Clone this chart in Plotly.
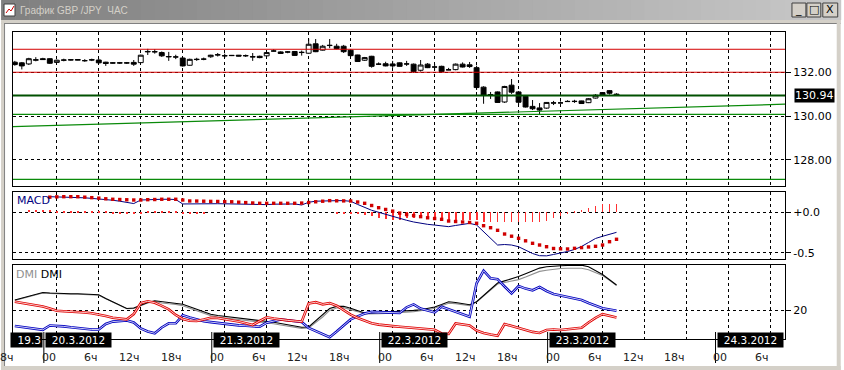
import plotly.graph_objects as go

# ---------------- data ----------------
candle_hours = list(range(-6, 81))  # hours relative to 20.3.2012 00:00

open_ = [132.46, 132.43, 132.38, 132.55, 132.62, 132.62, 132.45, 132.55, 132.56, 132.55,
         132.53, 132.56, 132.56, 132.46, 132.43, 132.42, 132.42, 132.45, 132.44, 132.93,
         132.93, 132.90, 132.70, 132.70, 132.65, 132.32, 132.58, 132.60, 132.71, 132.79,
         132.76, 132.76, 132.78, 132.75, 132.70, 132.73, 132.75, 132.97, 132.93, 132.92,
         132.95, 132.90, 132.87, 133.30, 133.01, 133.22, 133.19, 133.19, 133.01, 132.79,
         132.55, 132.73, 132.37, 132.39, 132.38, 132.43, 132.38, 132.37, 132.09, 132.37,
         132.24, 132.27, 132.11, 132.12, 132.37, 132.34, 132.21, 131.32, 130.96, 131.10,
         130.64, 131.41, 131.10, 130.90, 130.44, 130.37, 130.36, 130.59, 130.60, 130.67,
         130.66, 130.69, 130.61, 130.82, 131.07, 131.16, 131.00]
high = [132.52, 132.47, 132.66, 132.69, 132.66, 132.64, 132.58, 132.62, 132.59, 132.60,
        132.60, 132.62, 132.62, 132.48, 132.46, 132.47, 132.47, 132.56, 132.80, 133.07,
        133.05, 132.95, 132.93, 132.80, 132.68, 132.62, 132.66, 132.67, 132.80, 132.88,
        132.85, 132.79, 132.79, 132.81, 132.88, 132.76, 132.93, 133.05, 132.96, 132.97,
        132.97, 132.99, 133.54, 133.52, 133.25, 133.52, 133.30, 133.25, 133.05, 132.80,
        132.70, 132.75, 132.45, 132.48, 132.52, 132.45, 132.52, 132.40, 132.56, 132.42,
        132.38, 132.30, 132.20, 132.40, 132.45, 132.47, 132.30, 131.36, 131.10, 131.12,
        131.38, 131.69, 131.14, 130.92, 130.73, 130.59, 130.64, 130.69, 130.67, 130.72,
        130.74, 130.70, 130.82, 131.00, 131.09, 131.18, 131.04]
low = [132.30, 132.13, 132.33, 132.50, 132.56, 132.38, 132.43, 132.50, 132.54, 132.54,
       132.48, 132.51, 132.40, 132.29, 132.40, 132.38, 132.38, 132.29, 132.42, 132.79,
       132.85, 132.70, 132.52, 132.60, 132.26, 132.30, 132.52, 132.55, 132.66, 132.72,
       132.66, 132.74, 132.73, 132.70, 132.52, 132.64, 132.72, 132.96, 132.84, 132.87,
       132.75, 132.76, 132.85, 132.92, 132.99, 133.10, 133.05, 132.88, 132.70, 132.47,
       132.52, 132.21, 132.33, 132.27, 132.20, 132.26, 132.29, 131.97, 132.03, 132.19,
       132.11, 132.00, 132.10, 132.09, 132.22, 132.20, 131.19, 130.56, 130.78, 130.60,
       130.60, 131.01, 130.50, 130.39, 130.27, 130.09, 130.33, 130.50, 130.57, 130.64,
       130.60, 130.55, 130.59, 130.80, 130.95, 130.98, 130.92]
close = [132.35, 132.29, 132.62, 132.57, 132.58, 132.41, 132.55, 132.56, 132.57, 132.58,
         132.53, 132.57, 132.43, 132.40, 132.42, 132.43, 132.43, 132.37, 132.78, 132.95,
         132.94, 132.75, 132.72, 132.70, 132.29, 132.59, 132.59, 132.60, 132.78, 132.80,
         132.75, 132.77, 132.74, 132.76, 132.71, 132.67, 132.90, 132.97, 132.86, 132.93,
         132.77, 132.91, 133.28, 132.94, 133.19, 133.23, 133.08, 132.94, 132.76, 132.49,
         132.67, 132.27, 132.37, 132.29, 132.29, 132.27, 132.38, 132.03, 132.33, 132.21,
         132.24, 132.03, 132.11, 132.37, 132.24, 132.26, 131.30, 130.96, 130.97, 130.62,
         131.35, 131.09, 130.63, 130.41, 130.33, 130.27, 130.62, 130.60, 130.60, 130.66,
         130.67, 130.57, 130.79, 130.95, 130.96, 131.04, 130.94]

macd_first = 5  # MACD line and signal start at this candle
macd_line = [0.193, 0.192, 0.191, 0.189, 0.186, 0.179, 0.172, 0.166, 0.158, 0.149,
             0.137, 0.121, 0.108, 0.152, 0.157, 0.160, 0.161, 0.161, 0.158, 0.103,
             0.105, 0.106, 0.106, 0.106, 0.106, 0.105, 0.103, 0.099, 0.095, 0.093,
             0.090, 0.095, 0.100, 0.103, 0.103, 0.103, 0.090, 0.124, 0.137, 0.142,
             0.144, 0.144, 0.144, 0.136, 0.097, 0.061, 0.025, 0.000, -0.027, -0.051,
             -0.072, -0.099, -0.120, -0.139, -0.149, -0.158, -0.168, -0.178, -0.163, -0.150,
             -0.137, -0.157, -0.244, -0.330, -0.405, -0.399, -0.405, -0.426, -0.467, -0.510,
             -0.537, -0.539, -0.522, -0.507, -0.485, -0.460, -0.423, -0.374, -0.324, -0.297,
             -0.275, -0.248]
macd_signal = [0.187, 0.191, 0.193, 0.193, 0.193, 0.187, 0.181, 0.175, 0.167, 0.161,
               0.158, 0.155, 0.152, 0.152, 0.156, 0.158, 0.161, 0.161, 0.161, 0.152,
               0.140, 0.139, 0.137, 0.135, 0.134, 0.132, 0.130, 0.125, 0.120, 0.115,
               0.111, 0.111, 0.111, 0.111, 0.111, 0.111, 0.114, 0.121, 0.130, 0.137,
               0.144, 0.142, 0.141, 0.140, 0.127, 0.111, 0.084, 0.057, 0.035, 0.014,
               -0.010, -0.028, -0.041, -0.054, -0.068, -0.077, -0.087, -0.108, -0.114, -0.120,
               -0.126, -0.136, -0.166, -0.191, -0.223, -0.269, -0.296, -0.322, -0.353, -0.384,
               -0.405, -0.426, -0.448, -0.452, -0.454, -0.446, -0.437, -0.429, -0.421, -0.405,
               -0.364, -0.334]
macd_hist = [0, 0, 0.03, 0.03, 0.03, 0.03, 0.005, 0.005, 0.005, 0.005,
             0.005, 0.005, 0.005, 0.005, -0.02, -0.02, -0.02, -0.02, -0.02, 0.005,
             0.005, 0.005, 0.005, 0.005, -0.02, -0.02, -0.02, -0.02, 0, 0,
             0, 0, 0, 0, 0, 0, 0, 0, 0, 0,
             0, 0, 0, 0, 0, 0, -0.01, -0.01, -0.01, -0.01,
             -0.03, -0.05, -0.07, -0.08, -0.095, -0.095, -0.075, -0.075, -0.075, -0.075,
             -0.08, -0.095, -0.105, -0.095, -0.09, -0.09, -0.09, -0.115, -0.125, -0.125,
             -0.125, -0.12, -0.125, -0.12, -0.12, -0.12, -0.11, -0.075, -0.05, -0.01,
             0.005, 0.03, 0.055, 0.08, 0.10, 0.10, 0.10]

dmi_adx = [25.0, 26.0, 27.0, 27.85, 28.75, 28.5, 28.3, 28.25, 28.15, 28.1,
           28.0, 27.9, 27.6, 25.75, 24.0, 22.25, 20.75, 21.0, 22.5, 23.75,
           24.6, 24.2, 23.8, 23.5, 22.85, 21.6, 20.35, 19.1, 17.9, 17.25,
           16.85, 16.5, 16.1, 15.75, 15.4, 15.0, 14.4, 13.85, 13.25, 12.65,
           12.1, 11.4, 11.5, 14.5, 17.5, 20.75, 21.8, 21.85, 20.85, 19.75,
           18.5, 18.5, 18.7, 18.85, 19.0, 19.15, 19.5, 19.8, 20.15, 20.85,
           21.5, 22.75, 24.1, 23.75, 23.0, 22.6, 24.15, 27.15, 30.25, 33.5,
           34.55, 35.6, 36.7, 38.15, 39.65, 40.95, 41.6, 42.0, 42.15, 42.25,
           42.35, 42.45, 41.6, 39.75, 37.75, 35.1, 32.5]
dmi_adxr = [24.8, 25.8, 26.8, 27.6, 28.5, 28.3, 28.1, 28.0, 27.9, 27.9,
            27.8, 27.7, 27.4, 25.6, 23.8, 22.1, 20.6, 20.8, 22.2, 23.5,
            24.3, 23.5, 23.1, 22.8, 22.1, 20.9, 19.6, 18.4, 17.2, 16.5,
            16.1, 15.7, 15.3, 15.0, 14.6, 14.2, 13.7, 13.1, 12.5, 11.9,
            11.4, 10.8, 11.0, 13.6, 16.5, 19.8, 21.0, 21.2, 20.3, 19.2,
            18.0, 17.9, 18.1, 18.3, 18.4, 18.6, 18.9, 19.2, 19.6, 20.2,
            20.9, 22.1, 23.4, 23.2, 22.5, 22.1, 24.0, 27.0, 30.0, 33.0,
            33.75, 34.4, 35.2, 36.5, 37.85, 39.3, 39.9, 40.45, 40.75, 40.85,
            40.85, 40.85, 40.1, 38.85, 37.2, 34.85, 32.25]
dmi_plus = [24.15, 23.6, 23.0, 22.4, 21.75, 20.75, 19.6, 19.4, 19.3, 19.15,
            18.75, 18.35, 17.85, 17.0, 16.15, 15.75, 15.3, 18.0, 23.4, 24.35,
            23.65, 22.1, 20.3, 17.5, 15.5, 14.6, 14.5, 15.25, 16.1, 16.0,
            15.5, 15.1, 14.25, 13.4, 12.5, 14.5, 16.35, 15.75, 15.15, 14.8,
            14.5, 14.15, 23.25, 23.9, 22.85, 23.45, 22.15, 19.8, 17.7, 16.0,
            14.5, 13.35, 12.7, 12.2, 11.95, 11.65, 11.35, 11.05, 10.75, 10.4,
            10.1, 8.25, 8.0, 13.25, 12.9, 12.25, 9.75, 8.5, 7.75, 7.1,
            13.0, 12.0, 10.8, 10.0, 9.05, 8.5, 10.0, 10.25, 10.0, 10.35,
            10.75, 11.15, 13.75, 16.1, 17.9, 17.15, 16.25]
dmi_minus = [12.0, 11.5, 11.0, 10.6, 10.1, 12.25, 12.2, 11.8, 11.35, 10.95,
             10.55, 10.25, 10.25, 13.0, 14.2, 14.35, 14.75, 13.75, 10.75, 9.25,
             8.35, 11.25, 13.35, 13.35, 17.35, 16.25, 15.15, 14.4, 13.95, 13.45,
             13.0, 12.55, 12.3, 12.1, 11.85, 11.65, 13.65, 14.55, 15.25, 14.9,
             14.45, 14.0, 11.0, 9.5, 7.85, 6.4, 9.2, 12.2, 15.3, 16.8,
             18.2, 19.05, 18.9, 18.7, 18.5, 18.55, 21.35, 22.8, 20.7, 19.7,
             18.8, 21.6, 20.3, 19.0, 17.7, 16.6, 33.35, 39.65, 35.85, 35.4,
             31.75, 28.25, 32.0, 30.7, 29.85, 31.5, 29.5, 28.0, 27.25, 26.5,
             25.75, 25.0, 23.5, 22.1, 20.85, 20.25, 19.65]

red_levels = [133.05, 132.00]
green_levels = [130.07, 127.10]
last_price = 130.94
trend_hours = [-6.26, 104.08]
trend_prices = [129.51, 130.54]

price_ticks = [128, 130, 132]
macd_ticks = [0.0, -0.5]
macd_ticktext = ["+0.0", "-0.5"]
dmi_ticks = [20]

grid_hours = list(range(0, 103, 6))
label_hours = list(range(-6, 103, 6))
time_labels = ["18ч", "00", "6ч", "12ч", "18ч", "00", "6ч", "12ч", "18ч", "00", "6ч",
               "12ч", "18ч", "00", "6ч", "12ч", "18ч", "00", "6ч"]
day_starts = [-1.85, 22.15, 46.15, 70.15, 94.15]
day_labels = ["19.3", "20.3.2012", "21.3.2012", "22.3.2012", "23.3.2012", "24.3.2012"]

# ---------------- figure ----------------
FONT = "DejaVu Sans"
X_RANGE = [-6.26, 104.08]
L, T, W, H = 12, 32, 776, 307


def PX(px):
    return (px - L) / W


def PY(py):
    return (T + H - py) / H


fig = go.Figure()

# main panel: levels, trend, candles
for lv in red_levels:
    fig.add_trace(go.Scatter(x=X_RANGE, y=[lv, lv], mode="lines",
                             line=dict(color="#d40000", width=1), xaxis="x", yaxis="y"))
for lv in green_levels:
    fig.add_trace(go.Scatter(x=X_RANGE, y=[lv, lv], mode="lines",
                             line=dict(color="#0a8a0a", width=1.2), xaxis="x", yaxis="y"))
fig.add_trace(go.Scatter(x=X_RANGE, y=[last_price, last_price], mode="lines",
                         line=dict(color="#005000", width=2), xaxis="x", yaxis="y"))
fig.add_trace(go.Scatter(x=trend_hours, y=trend_prices, mode="lines",
                         line=dict(color="#0a8a0a", width=1.2), xaxis="x", yaxis="y"))
fig.add_trace(go.Candlestick(
    x=candle_hours, open=open_, high=high, low=low, close=close,
    xaxis="x", yaxis="y", whiskerwidth=0,
    increasing=dict(line=dict(color="black", width=1), fillcolor="white"),
    decreasing=dict(line=dict(color="black", width=1), fillcolor="black"),
    hoverinfo="skip"))

# MACD panel
fig.add_trace(go.Bar(x=candle_hours, y=macd_hist, width=0.12,
                     marker=dict(color="#ff3030", line=dict(width=0)),
                     xaxis="x2", yaxis="y2"))
fig.add_trace(go.Scatter(x=candle_hours[macd_first:], y=macd_line, mode="lines",
                         line=dict(color="#000080", width=1), xaxis="x2", yaxis="y2"))
fig.add_trace(go.Scatter(x=candle_hours[macd_first:], y=macd_signal, mode="markers",
                         marker=dict(symbol="square", size=3.4, color="#d00000", line=dict(width=0)),
                         xaxis="x2", yaxis="y2"))

# DMI panel
fig.add_trace(go.Scatter(x=candle_hours, y=dmi_adxr, mode="lines",
                         line=dict(color="#909090", width=1.1), xaxis="x3", yaxis="y3"))
fig.add_trace(go.Scatter(x=candle_hours, y=dmi_adx, mode="lines",
                         line=dict(color="#000000", width=1.1), xaxis="x3", yaxis="y3"))
for series, col in ((dmi_minus, "#0000c0"), (dmi_plus, "#e00000")):
    fig.add_trace(go.Scatter(x=candle_hours, y=series, mode="lines",
                             line=dict(color=col, width=2.6), xaxis="x3", yaxis="y3"))
    fig.add_trace(go.Scatter(x=candle_hours, y=series, mode="lines",
                             line=dict(color="white", width=0.8), xaxis="x3", yaxis="y3"))

grid = dict(showgrid=True, gridcolor="black", gridwidth=1, griddash="3px,3px",
            zeroline=False, showline=True, mirror=True, linecolor="black", linewidth=1)
xcommon = dict(grid, range=X_RANGE, tickvals=grid_hours, showticklabels=False, ticks="",
               fixedrange=True)
ycommon = dict(grid, side="right", ticks="outside", ticklen=5, tickcolor="black",
               tickfont=dict(family=FONT, size=11, color="black"), fixedrange=True)

fig.update_layout(
    width=844, height=370,
    margin=dict(l=L, r=844 - L - W, t=T, b=370 - T - H),
    paper_bgcolor="white", plot_bgcolor="white",
    showlegend=False, hovermode=False, bargap=0,
    boxgap=0.3, boxgroupgap=0,
    xaxis=dict(xcommon, anchor="y", rangeslider=dict(visible=False)),
    xaxis2=dict(xcommon, anchor="y2", matches="x"),
    xaxis3=dict(xcommon, anchor="y3", matches="x"),
    yaxis=dict(ycommon, domain=[PY(186), 1], range=[126.80, 133.84], tickvals=price_ticks,
               tickformat=".2f"),
    yaxis2=dict(ycommon, domain=[PY(259), PY(192)], range=[-0.578, 0.251], tickvals=macd_ticks,
                ticktext=macd_ticktext),
    yaxis3=dict(ycommon, domain=[0, PY(265)], range=[5.5, 42.5], tickvals=dmi_ticks),
)

shapes = []
ann = []

# window chrome: title bar gradient
n = 60
for k in range(n):
    t = k / (n - 1)
    c = int(128 + (200 - 128) * t)
    shapes.append(dict(type="rect", xref="paper", yref="paper", layer="above",
                       x0=PX(k * 844 / n), x1=PX((k + 1) * 844 / n + 0.5), y0=PY(0), y1=PY(20),
                       line=dict(width=0), fillcolor=f"rgb({c},{c},{c})"))
# frame strips
chrome = [
    (0, 20, 844, 23, "#d4d0c8"),
    (0, 23, 844, 24, "#808080"),
    (0, 20, 3, 370, "#d4d0c8"),
    (3, 24, 4, 370, "#808080"),
    (840, 20, 844, 370, "#d4d0c8"),
    (0, 366, 844, 370, "#d4d0c8"),
]
for x0, y0, x1, y1, col in chrome:
    shapes.append(dict(type="rect", xref="paper", yref="paper", layer="above",
                       x0=PX(x0), x1=PX(x1), y0=PY(y1), y1=PY(y0),
                       line=dict(width=0), fillcolor=col))
# icon
shapes.append(dict(type="rect", xref="paper", yref="paper", layer="above",
                   x0=PX(3), x1=PX(14), y0=PY(16), y1=PY(4),
                   line=dict(width=1, color="#404040"), fillcolor="white"))
shapes.append(dict(type="path", xref="paper", yref="paper", layer="above",
                   path=f"M {PX(5)} {PY(13)} L {PX(8)} {PY(9)} L {PX(10)} {PY(11)} L {PX(13)} {PY(6)}",
                   line=dict(width=1, color="#d00000")))
ann.append(dict(xref="paper", yref="paper", x=PX(17), y=PY(10.5), xanchor="left", yanchor="middle",
                text="График GBP /JPY&nbsp;&nbsp;ЧАС", showarrow=False,
                font=dict(family="Liberation Sans Narrow, Liberation Sans, sans-serif", size=10,
                          color="#d4d0c8")))
# buttons
for bx0, bx1, label in ((795, 809, "_"), (810, 824, "□"), (826, 841, "X")):
    shapes.append(dict(type="rect", xref="paper", yref="paper", layer="above",
                       x0=PX(bx0), x1=PX(bx1), y0=PY(17), y1=PY(3),
                       line=dict(width=1, color="#404040"), fillcolor="#d4d0c8"))
    ann.append(dict(xref="paper", yref="paper", x=PX((bx0 + bx1) / 2), y=PY(10), xanchor="center",
                    yanchor="middle", text=label, showarrow=False,
                    font=dict(family=FONT, size=11, color="black")))

# panel labels
ann.append(dict(xref="paper", yref="paper", x=PX(14), y=PY(200), xanchor="left", yanchor="middle",
                text="MACD", showarrow=False, font=dict(family=FONT, size=11, color="#000080")))
ann.append(dict(xref="paper", yref="paper", x=PX(13), y=PY(274), xanchor="left", yanchor="middle",
                text="<span style='color:#909090'>DMI</span> DMI", showarrow=False,
                font=dict(family=FONT, size=11, color="black")))

# current price box
ann.append(dict(xref="paper", yref="y", x=1, y=last_price, xanchor="left", yanchor="middle",
                xshift=9, text=f"{last_price:.2f}",
                showarrow=False, bgcolor="black", borderpad=0,
                font=dict(family=FONT, size=11, color="white")))

# time labels
for hx, txt in zip(label_hours, time_labels):
    ann.append(dict(xref="x", yref="paper", x=hx, y=PY(357), xanchor="right", yanchor="middle",
                    xshift=1, text=txt, showarrow=False,
                    font=dict(family=FONT, size=11, color="#202020")))
# day separators and date boxes
for d in day_starts:
    shapes.append(dict(type="line", xref="x", yref="paper", layer="above",
                       x0=d, x1=d, y0=PY(363), y1=PY(332), line=dict(width=1, color="black")))
ann.append(dict(xref="x", yref="paper", x=day_starts[0], y=PY(339.5), xanchor="right", yanchor="middle",
                xshift=-1, text=day_labels[0], showarrow=False, bgcolor="black", borderpad=1,
                width=29, align="right", font=dict(family=FONT, size=10.5, color="white")))
for d, txt in zip(day_starts, day_labels[1:]):
    ann.append(dict(xref="x", yref="paper", x=d, y=PY(339.5), xanchor="left", yanchor="middle",
                    xshift=1, text=txt, showarrow=False, bgcolor="black", borderpad=1,
                    width=63, align="center", font=dict(family=FONT, size=10.5, color="white")))

fig.update_layout(shapes=shapes, annotations=ann)
fig.write_html("out.html")
